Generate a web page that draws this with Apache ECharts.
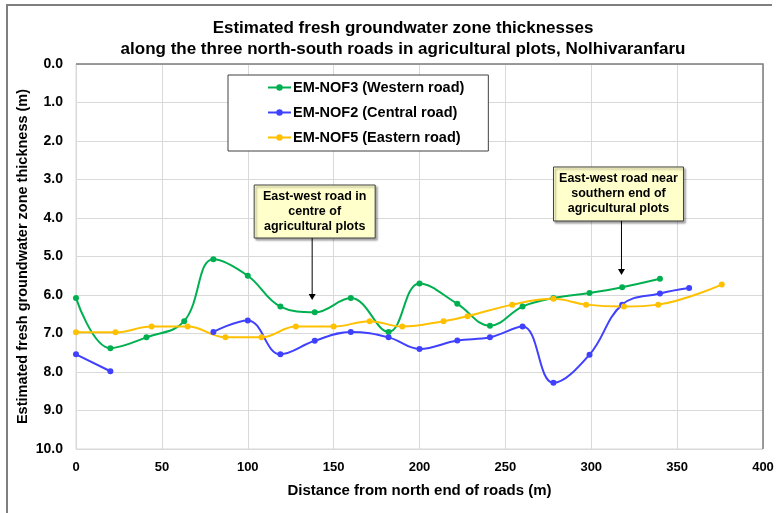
<!DOCTYPE html>
<html>
<head>
<meta charset="utf-8">
<script src="https://cdn.jsdelivr.net/npm/echarts@6/dist/echarts.min.js"></script>
<style>
  html, body { margin: 0; padding: 0; background: #fff; }
  #chart { width: 777px; height: 513px; }
</style>
</head>
<body>
<div id="chart"></div>
<script>
// distances (m) and thicknesses (m)
const westX = [0, 20, 41, 63, 80, 100, 119, 139, 160, 182, 200, 222, 241, 260, 278, 299, 318, 340];
const westY = [6.08, 7.38, 7.1, 6.68, 5.07, 5.5, 6.3, 6.45, 6.08, 6.96, 5.7, 6.23, 6.8, 6.3, 6.08, 5.95, 5.8, 5.58];

// null = gap in the central road survey
const centX = [0, 20, 50, 80, 100, 119, 139, 160, 182, 200, 222, 241, 260, 278, 299, 318, 340, 357];
const centY = [7.54, 7.98, null, 6.96, 6.66, 7.54, 7.19, 6.96, 7.1, 7.4, 7.18, 7.1, 6.82, 8.28, 7.55, 6.25, 5.96, 5.82];

const eastX = [0, 23, 44, 65, 87, 108, 128, 150, 171, 190, 214, 228, 254, 278, 297, 319, 339, 376];
const eastY = [6.97, 6.97, 6.82, 6.82, 7.1, 7.1, 6.82, 6.82, 6.68, 6.82, 6.68, 6.55, 6.25, 6.1, 6.25, 6.3, 6.25, 5.73];

const seriesNames = ['EM-NOF3 (Western road)', 'EM-NOF2 (Central road)', 'EM-NOF5 (Eastern road)'];
const colors = ['#00B050', '#4040FF', '#FFC000'];

// annotations: text and where the arrow points (data coords)
const notes = [
  { text: 'East-west road in\ncentre of\nagricultural plots', at: [137.5, 6.13], w: 121, h: 53, len: 62, dx: 2.5 },
  { text: 'East-west road near\nsouthern end of\nagricultural plots', at: [317.6, 5.48], w: 130, h: 54, len: 54, dx: -3 }
];

const FONT = '"Liberation Sans", Arial, sans-serif';

function pairs(xs, ys) {
  return xs.map((x, i) => [x, ys[i] == null ? '-' : ys[i]]);
}

const chart = echarts.init(document.getElementById('chart'));

const makeSeries = (i, xs, ys) => ({
  name: seriesNames[i],
  type: 'line',
  data: pairs(xs, ys),
  smooth: 0.4,
  connectNulls: false,
  symbol: 'circle',
  symbolSize: 6,
  itemStyle: { color: colors[i] },
  lineStyle: { color: colors[i], width: 2 },
  emphasis: { disabled: true }
});

chart.setOption({
  animation: false,
  backgroundColor: '#fff',
  title: {
    text: 'Estimated fresh groundwater zone thicknesses\nalong the three north-south roads in agricultural plots, Nolhivaranfaru',
    left: 398,
    top: 13,
    textAlign: 'center',
    textStyle: { fontFamily: FONT, fontSize: 17, fontWeight: 'bold', color: '#000', lineHeight: 21 }
  },
  legend: {
    orient: 'vertical',
    left: 228,
    top: 75,
    padding: [5, 24, 6, 39],
    itemGap: 10,
    itemWidth: 23,
    itemHeight: 8,
    borderColor: '#404040',
    borderWidth: 1,
    backgroundColor: '#fff',
    data: seriesNames,
    textStyle: { fontFamily: FONT, fontSize: 14.5, fontWeight: 'bold', color: '#000', padding: [0, 0, 0, -3] }
  },
  grid: {
    left: 76, right: 14, top: 64, bottom: 64,
    show: true, borderColor: '#d9d9d9', borderWidth: 1
  },
  xAxis: {
    type: 'value',
    min: 0, max: 400, interval: 50,
    name: 'Distance from north end of roads (m)',
    nameLocation: 'middle',
    nameGap: 34,
    nameTextStyle: { fontFamily: FONT, fontSize: 15, fontWeight: 'bold', color: '#000' },
    axisLine: { show: false },
    axisTick: { show: false },
    axisLabel: { fontFamily: FONT, fontSize: 13, fontWeight: 'bold', color: '#000', margin: 12 },
    splitLine: { lineStyle: { color: '#d9d9d9' } }
  },
  yAxis: {
    type: 'value',
    inverse: true,
    min: 0, max: 10, interval: 1,
    name: 'Estimated fresh groundwater zone thickness (m)',
    nameLocation: 'middle',
    nameGap: 46,
    nameMoveOverlap: false,
    nameTextStyle: { fontFamily: FONT, fontSize: 14.5, fontWeight: 'bold', color: '#000' },
    axisLine: { show: false },
    axisTick: { show: false },
    axisLabel: {
      fontFamily: FONT, fontSize: 14, fontWeight: 'bold', color: '#000', margin: 13,
      formatter: v => v.toFixed(1)
    },
    splitLine: { lineStyle: { color: '#d9d9d9' } }
  },
  series: [
    makeSeries(0, westX, westY),
    makeSeries(1, centX, centY),
    makeSeries(2, eastX, eastY)
  ]
});

// frame, darker top/right plot border, and the annotation boxes
const tl = chart.convertToPixel({ gridIndex: 0 }, [0, 0]);
const br = chart.convertToPixel({ gridIndex: 0 }, [400, 10]);
const elements = [
  { type: 'polyline', silent: true, shape: { points: [[7, 513], [7, 5], [772, 5]] },
    style: { stroke: '#7f7f7f', lineWidth: 2, fill: null } },
  { type: 'polyline', silent: true, z: 5, shape: { points: [[tl[0], tl[1]], [br[0], tl[1]], [br[0], br[1]]] },
    style: { stroke: '#808080', lineWidth: 1.5, fill: null } }
];

notes.forEach(n => {
  const p = chart.convertToPixel({ gridIndex: 0 }, n.at);
  const cx = p[0] + n.dx;
  const bx = cx - n.w / 2, by = p[1] - n.len - n.h;
  elements.push(
    { type: 'rect', z: 10, silent: true, shape: { x: bx, y: by, width: n.w, height: n.h },
      style: { fill: '#FFFFCC', stroke: '#404040', lineWidth: 1, shadowColor: 'rgba(0,0,0,0.35)', shadowOffsetX: 2, shadowOffsetY: 2, shadowBlur: 2 } },
    { type: 'text', z: 11, silent: true, x: cx, y: by + n.h / 2,
      style: { text: n.text, fontFamily: FONT, fontSize: 12.5, fontWeight: 'bold', fill: '#000',
        align: 'center', verticalAlign: 'middle', lineHeight: 15 } },
    { type: 'line', z: 10, silent: true, shape: { x1: p[0], y1: by + n.h, x2: p[0], y2: p[1] - 5 },
      style: { stroke: '#000', lineWidth: 1 } },
    { type: 'polygon', z: 10, silent: true, shape: { points: [[p[0] - 3.5, p[1] - 6], [p[0] + 3.5, p[1] - 6], [p[0], p[1]]] },
      style: { fill: '#000' } }
  );
});

chart.setOption({ graphic: elements });
</script>
</body>
</html>
